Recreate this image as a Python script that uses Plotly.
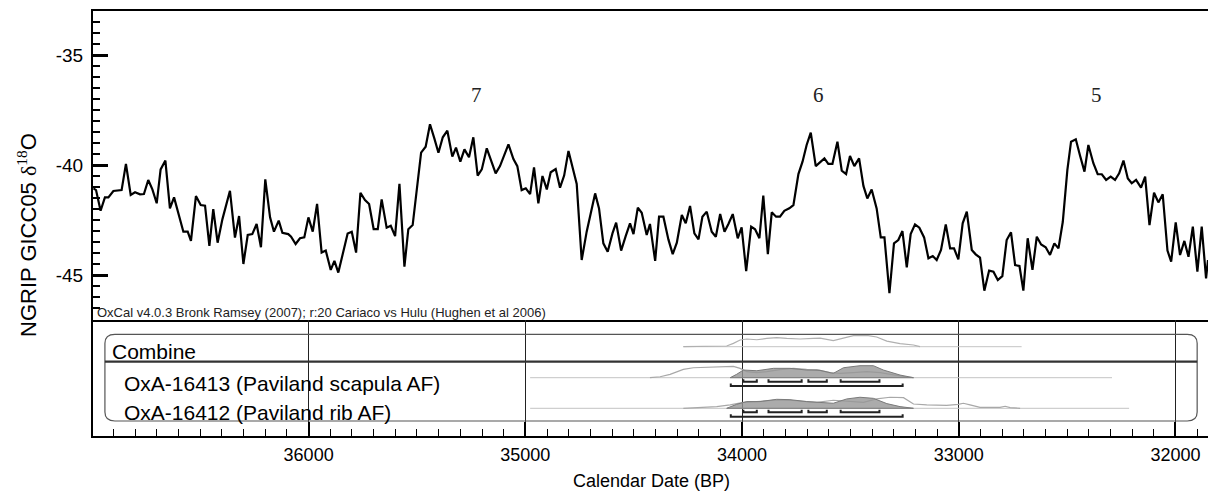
import plotly.graph_objects as go

# ---------------- data ----------------
ngrip_years = [
    36993, 36981, 36960, 36940, 36924, 36901, 36863, 36843, 36821, 36801, 36778, 36760, 36740, 36721, 36701,
    36683, 36661, 36640, 36621, 36593, 36578, 36558, 36543, 36520, 36498, 36478, 36458, 36440, 36420, 36398,
    36363, 36340, 36321, 36301, 36281, 36260, 36240, 36220, 36200, 36178, 36160, 36138,
    36121, 36094, 36081, 36060, 36040, 36020, 36001, 35981, 35961, 35940, 35921, 35898, 35881, 35863, 35840,
    35820, 35801, 35781, 35761, 35740, 35721, 35700, 35681, 35663, 35640, 35621, 35601, 35581, 35558, 35540,
    35520, 35501, 35481, 35460, 35440, 35420, 35401, 35381, 35360, 35337, 35320, 35300, 35281,
    35260, 35240, 35220, 35201, 35178, 35158, 35137, 35117, 35078, 35055, 35037, 35017, 34998, 34978, 34960,
    34940, 34921, 34901, 34883, 34860, 34840, 34821, 34801, 34763, 34740, 34717, 34678, 34660, 34640, 34620,
    34598, 34581, 34558, 34537, 34517, 34501, 34481, 34463, 34440, 34425,
    34401, 34383, 34363, 34340, 34320, 34301, 34278, 34260, 34240, 34220, 34201, 34183, 34163, 34140, 34121,
    34101, 34081, 34063, 34043, 34020, 34002, 33981, 33958, 33940, 33920, 33902, 33881, 33863, 33843, 33825,
    33805, 33782, 33763, 33740, 33721, 33702, 33683, 33660, 33640, 33620, 33602, 33583,
    33560, 33540, 33520, 33502, 33482, 33460, 33440, 33422, 33402, 33379, 33360, 33343, 33320, 33299, 33279,
    33260, 33240, 33222, 33202, 33182, 33160, 33140, 33120, 33102, 33082, 33060, 33040, 33022, 33002, 32982,
    32963, 32940, 32922, 32902, 32882, 32860, 32840, 32820, 32799, 32779, 32759, 32740, 32720,
    32702, 32682, 32660, 32640, 32620, 32599, 32579, 32559, 32540, 32520, 32499, 32482, 32460, 32440, 32420,
    32402, 32379, 32359, 32340, 32320, 32299, 32279, 32260, 32240, 32220, 32202, 32182, 32159, 32140, 32120,
    32099, 32079, 32059, 32037, 32020, 31999, 31979, 31959, 31940, 31920, 31899, 31879, 31859, 31850,
]
ngrip_d18o = [
    -41.06, -41.14, -42.08, -41.47, -41.47, -41.18, -41.14, -39.95, -41.36, -41.24, -41.33, -41.32, -40.68, -41.11, -41.74,
    -40.20, -39.80, -41.97, -41.47, -42.50, -43.03, -43.03, -43.45, -41.41, -41.82, -41.85, -43.68, -42.01, -43.53, -42.47,
    -41.17, -43.30, -42.32, -44.50, -43.18, -43.14, -42.68, -43.74, -40.65, -42.38, -43.03, -42.53,
    -43.08, -43.14, -43.26, -43.59, -43.33, -43.29, -42.38, -43.03, -41.77, -43.98, -43.89, -44.77, -44.36, -44.89, -43.98,
    -43.11, -43.03, -43.98, -41.26, -41.59, -41.77, -42.91, -42.91, -41.56, -42.85, -42.76, -43.23, -40.86, -44.62, -42.92,
    -42.73, -40.98, -39.44, -39.17, -38.15, -38.79, -39.44, -38.74, -38.44, -39.62, -39.21, -39.85, -39.29,
    -39.65, -38.74, -40.48, -40.20, -39.24, -39.77, -40.38, -40.05, -39.06, -39.73, -40.05, -41.14, -41.06, -41.32, -40.11,
    -41.74, -40.50, -41.11, -40.33, -40.18, -41.03, -40.48, -39.36, -40.86, -44.32, -43.03, -41.29, -41.97, -43.56, -43.94,
    -43.11, -42.62, -43.89, -43.23, -42.65, -43.14, -41.94, -42.17, -43.18, -42.68,
    -44.36, -42.35, -42.35, -43.38, -44.05, -43.53, -42.27, -42.65, -41.86, -43.11, -43.38, -42.35, -42.12, -43.03, -43.26,
    -42.23, -43.03, -42.68, -42.23, -43.33, -42.83, -44.82, -42.80, -42.92, -43.33, -41.39, -44.05, -42.15, -42.35, -42.35,
    -42.08, -41.97, -41.82, -40.41, -39.85, -39.09, -38.53, -40.05, -39.89, -39.70, -39.95, -39.95,
    -38.94, -40.26, -40.41, -39.59, -40.05, -39.70, -40.95, -41.52, -41.11, -41.97, -43.29, -43.29, -45.83, -43.56, -43.41,
    -43.00, -44.65, -43.14, -42.70, -42.85, -43.29, -44.24, -44.14, -44.32, -43.86, -42.70, -43.79, -43.79, -44.29, -42.65,
    -42.12, -43.86, -44.06, -44.21, -45.71, -44.80, -44.85, -45.23, -45.05, -43.41, -43.06, -44.55, -44.59,
    -45.71, -43.33, -44.77, -43.26, -43.61, -43.74, -44.09, -43.56, -43.79, -42.58, -40.23, -38.94, -38.83, -39.59, -40.30,
    -39.09, -39.92, -40.42, -40.42, -40.68, -40.53, -40.68, -40.38, -39.80, -40.61, -40.83, -40.68, -41.03, -40.53, -42.73,
    -41.26, -41.70, -41.33, -43.89, -44.39, -42.61, -44.09, -43.45, -44.17, -42.80, -44.85, -42.80, -45.15, -44.32,
]

event_labels = ["7", "6", "5"]
event_years = [35224, 33648, 32363]
event_d18o = -36.82

x_tick_years = [36000, 35000, 34000, 33000, 32000]
x_tick_labels = ["36000", "35000", "34000", "33000", "32000"]
y_tick_vals = [-35, -40, -45]
y_tick_labels = ["-35", "-40", "-45"]

row_labels = ["Combine", "OxA-16413 (Paviland scapula AF)", "OxA-16412 (Paviland rib AF)"]

combine_years = [34271, 34071, 34040, 34009, 33978, 33932, 33886, 33840, 33794, 33732, 33671, 33640, 33579,
                 33532, 33486, 33425, 33379, 33332, 33271, 33209, 33179]
combine_prob = [0, .06, .28, .56, .64, .58, .69, .75, .69, .64, .69, .72, .5, .69, .92, .94, .81, .47, .25, .14, 0]

scap_unmod_years = [34425, 34378, 34332, 34271, 34225, 34148, 34071, 34040, 34009, 33978, 33932, 33886, 33825,
                    33763, 33702, 33655, 33594, 33548, 33486, 33425, 33363, 33302, 33240, 33209]
scap_unmod_prob = [0, .08, .28, .69, .83, .86, .92, .94, .78, .5, .42, .5, .67, .78, .69, .67, .42, .36, .42, .5,
                   .42, .22, .06, 0]
scap_mod_years = [34055, 34025, 33994, 33932, 33855, 33779, 33702, 33640, 33579, 33532, 33456, 33394, 33348,
                  33271, 33209]
scap_mod_prob = [0, .28, .64, .58, .78, .78, .64, .61, .36, .83, 1.0, 1.0, .64, .22, 0]

rib_unmod_years = [34271, 34194, 34117, 34055, 33994, 33932, 33855, 33794, 33732, 33655, 33579, 33502, 33440,
                   33379, 33317, 33255, 33209, 33148, 33056, 33002, 32979, 32948, 32902, 32810, 32786, 32763, 32717]
rib_unmod_prob = [0, .06, .14, .28, .5, .56, .67, .69, .61, .5, .67, .61, .5, .78, .92, .89, .36, .28, .25, .33,
                  .42, .28, .08, .08, .17, .06, 0]
rib_mod_years = [34071, 34025, 33978, 33917, 33840, 33779, 33702, 33640, 33579, 33517, 33456, 33394, 33332,
                 33271, 33209]
rib_mod_prob = [0, .33, .56, .56, .75, .72, .56, .47, .42, .78, .92, .83, .39, .14, 0]

range68_from = [33994, 33878, 33694, 33545]
range68_to = [33932, 33725, 33609, 33366]
range95_from = [34052]
range95_to = [33259]

combine_span = [34271, 32710]
scap_span = [34978, 32293]
rib_span = [34978, 32214]

# ---------------- layout constants ----------------
X_RANGE = [36995, 31850]
SPLIT = 116 / 425
ROW_H = 12.0
box_left, box_right = 36940, 31900
box_top, box_bot = 101.7, 15.0
combine_base = 89.3
divider_y = 74.3
scap_base, rib_base = 58.3, 27.7
label_y = [85, 53, 24]
label_x = [36916, 36861, 36861]

FONT = "Liberation Sans"

fig = go.Figure()

fig.add_trace(go.Scatter(x=ngrip_years, y=ngrip_d18o, mode="lines",
                         line=dict(color="black", width=2.2), xaxis="x", yaxis="y",
                         hoverinfo="skip"))


def baseline(span, y):
    fig.add_trace(go.Scatter(x=span, y=[y, y], mode="lines", line=dict(color="#c4c4c4", width=1),
                             xaxis="x2", yaxis="y2", hoverinfo="skip"))


def outline(years, probs, base, color="#a8a8a8"):
    fig.add_trace(go.Scatter(x=years, y=[base + p * ROW_H for p in probs], mode="lines",
                             line=dict(color=color, width=1.2), xaxis="x2", yaxis="y2", hoverinfo="skip"))


def filled(years, probs, base):
    ys = [base + p * ROW_H for p in probs]
    fig.add_trace(go.Scatter(x=list(years) + list(years)[::-1], y=ys + [base] * len(years),
                             mode="lines", fill="toself", fillcolor="rgba(150,150,150,0.8)",
                             line=dict(color="#7a7a7a", width=1), xaxis="x2", yaxis="y2",
                             hoverinfo="skip"))


def brackets(starts, ends, y):
    xs, ys = [], []
    for a, b in zip(starts, ends):
        xs += [a, a, b, b, None]
        ys += [y + 2.5, y, y, y + 2.5, None]
    fig.add_trace(go.Scatter(x=xs, y=ys, mode="lines", line=dict(color="#222", width=2),
                             xaxis="x2", yaxis="y2", hoverinfo="skip"))


baseline(combine_span, combine_base)
baseline(scap_span, scap_base)
baseline(rib_span, rib_base)

outline(combine_years, combine_prob, combine_base, "#b0b0b0")
outline(scap_unmod_years, scap_unmod_prob, scap_base)
filled(scap_mod_years, scap_mod_prob, scap_base)
outline(rib_unmod_years, rib_unmod_prob, rib_base)
filled(rib_mod_years, rib_mod_prob, rib_base)

brackets(range68_from, range68_to, scap_base - 4.0)
brackets(range95_from, range95_to, scap_base - 8.3)
brackets(range68_from, range68_to, rib_base - 4.0)
brackets(range95_from, range95_to, rib_base - 8.4)

# rounded box
rx, ry = 46, 9
L, R, T, B = box_left, box_right, box_top, box_bot
path = (f"M {L - rx},{T} L {R + rx},{T} Q {R},{T} {R},{T - ry} L {R},{B + ry} Q {R},{B} {R + rx},{B} "
        f"L {L - rx},{B} Q {L},{B} {L},{B + ry} L {L},{T - ry} Q {L},{T} {L - rx},{T} Z")
shapes = [
    dict(type="path", path=path, xref="x2", yref="y2", line=dict(color="#555", width=1.2)),
    dict(type="line", xref="x2", yref="y2", x0=L, x1=R, y0=divider_y, y1=divider_y,
         line=dict(color="#333", width=2.2)),
]

annotations = [
    dict(text="NGRIP GICC05 <span style='font-family:Liberation Serif'>δ<sup>18</sup></span>O",
         textangle=-90, xref="paper", yref="paper", x=(27 - 93) / 1115, y=(436 - 235) / 425,
         xanchor="center", yanchor="middle",
         showarrow=False, font=dict(family=FONT, size=22, color="black")),
    dict(text="Calendar Date (BP)", xref="paper", yref="paper", x=(651 - 93) / 1115,
         y=(436 - 481) / 425, xanchor="center", yanchor="middle",
         showarrow=False, font=dict(family=FONT, size=18, color="black")),
    dict(text="OxCal v4.0.3 Bronk Ramsey (2007); r:20 Cariaco vs Hulu (Hughen et al 2006)",
         xref="paper", yref="paper", x=(95 - 93) / 1115, xanchor="left", y=(436 - 312) / 425,
         yanchor="middle", showarrow=False, font=dict(family=FONT, size=13, color="#222")),
]
for lab, yr in zip(event_labels, event_years):
    annotations.append(dict(text=lab, x=yr, y=event_d18o, xref="x", yref="y", showarrow=False,
                            xanchor="center", yanchor="middle",
                            font=dict(family="Liberation Serif", size=21, color="#222")))
for lab, lx, ly in zip(row_labels, label_x, label_y):
    annotations.append(dict(text=lab, x=lx, y=ly, xref="x2", yref="y2", xanchor="left",
                            yanchor="middle", showarrow=False,
                            font=dict(family=FONT, size=21, color="black")))

fig.update_layout(
    width=1208, height=494, margin=dict(l=93, r=0, t=11, b=58),
    paper_bgcolor="white", plot_bgcolor="white", showlegend=False,
    shapes=shapes, annotations=annotations,
    xaxis=dict(domain=[0, 1], range=X_RANGE, anchor="y", showticklabels=False, ticks="",
               showgrid=False, zeroline=False, showline=True, linewidth=2, linecolor="black",
               mirror=True),
    yaxis=dict(domain=[SPLIT, 1], range=[-47.045, -33], anchor="x", tickmode="array",
               tickvals=y_tick_vals, ticktext=y_tick_labels, ticks="inside", ticklen=15,
               tickwidth=2.5, tickcolor="black",
               minor=dict(ticks="inside", ticklen=7, tickwidth=1.5, tickcolor="black", dtick=0.5,
                          tick0=-35, showgrid=False),
               showgrid=False, zeroline=False, showline=True, linewidth=2, linecolor="black",
               ticklabelstandoff=4, tickfont=dict(family=FONT, size=19, color="black")),
    xaxis2=dict(domain=[0, 1], range=X_RANGE, anchor="y2", tickmode="array",
                tickvals=x_tick_years, ticktext=x_tick_labels, ticks="inside", ticklen=14,
                tickwidth=2, tickcolor="black",
                minor=dict(ticks="inside", ticklen=7, tickwidth=1, tickcolor="black", dtick=100,
                           tick0=32000, showgrid=False),
                showgrid=True, gridcolor="#222", gridwidth=1, zeroline=False, showline=True,
                linewidth=2, linecolor="black", ticklabelstandoff=1,
                tickfont=dict(family=FONT, size=18, color="black")),
    yaxis2=dict(domain=[0, SPLIT], range=[0, 116], anchor="x2", showticklabels=False, ticks="",
                showgrid=False, zeroline=False, showline=True, linewidth=2, linecolor="black"),
)

fig.write_html("out.html", config={"displayModeBar": False},
               post_script="document.body.style.margin='0';document.body.style.overflow='hidden';")
